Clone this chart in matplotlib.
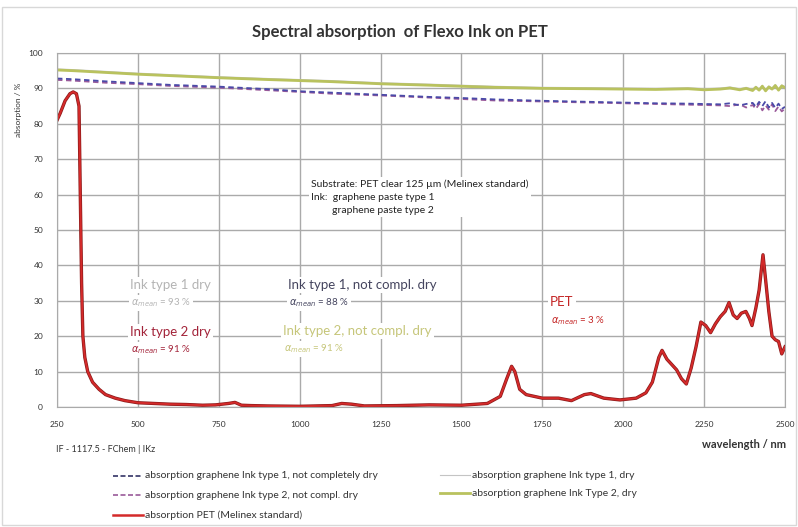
import matplotlib.pyplot as plt
from matplotlib.lines import Line2D
from matplotlib.patches import Rectangle

plt.rcParams["font.family"] = ["Lato", "DejaVu Sans"]

# wavelength grid (nm) shared by the four ink curves
WL_INK = [250, 300, 400, 500, 600, 750, 900, 1000, 1100, 1250, 1400, 1500, 1600,
          1750, 1900, 2000, 2100, 2200, 2250, 2300, 2330, 2360, 2380, 2400, 2410,
          2420, 2430, 2440, 2450, 2460, 2470, 2480, 2490, 2500]

ABS_T2_DRY = [95.2, 95.0, 94.5, 94.0, 93.6, 93.0, 92.5, 92.2, 91.9, 91.3, 90.9, 90.6, 90.3,
              90.0, 89.9, 89.8, 89.7, 89.9, 89.6, 89.8, 90.1, 89.6, 90.0, 89.4, 90.3,
              89.5, 90.6, 89.3, 90.4, 89.8, 90.8, 89.5, 90.7, 90.2]
ABS_T1_DRY = [95.5, 95.3, 94.8, 94.3, 93.9, 93.3, 92.8, 92.5, 92.2, 91.6, 91.2, 90.9, 90.6,
              90.3, 90.2, 90.1, 90.0, 90.2, 89.9, 90.1, 90.4, 89.9, 90.3, 89.7, 90.6,
              89.8, 90.9, 89.6, 90.7, 90.1, 91.1, 89.8, 91.0, 90.5]
ABS_T1_WET = [92.8, 92.6, 92.0, 91.5, 91.0, 90.5, 89.8, 89.2, 88.8, 88.2, 87.6, 87.3, 86.9,
              86.5, 86.2, 86.0, 85.8, 85.7, 85.6, 85.5, 85.8, 85.2, 85.6, 85.9, 84.8,
              86.2, 85.0, 86.4, 84.6, 85.9, 84.5, 85.7, 84.2, 84.8]
ABS_T2_WET = [92.4, 92.2, 91.6, 91.2, 90.7, 90.2, 89.5, 89.0, 88.5, 88.0, 87.4, 87.0, 86.6,
              86.3, 86.0, 85.8, 85.6, 85.4, 85.3, 85.2, 85.0, 85.5, 84.6, 85.3, 84.2,
              85.6, 83.8, 85.2, 84.0, 85.5, 83.6, 84.9, 83.5, 84.3]

WL_PET = [250, 260, 275, 290, 300, 310, 318, 322, 326, 330, 336, 345, 360, 380, 400, 430,
          460, 500, 550, 600, 650, 700, 740, 780, 800, 820, 850, 900, 1000, 1100, 1130,
          1160, 1200, 1300, 1400, 1500, 1580, 1620, 1640, 1655, 1665, 1680, 1700, 1750,
          1800, 1840, 1880, 1900, 1940, 1990, 2040, 2070, 2090, 2110, 2120, 2135, 2150,
          2165, 2180, 2195, 2210, 2225, 2240, 2255, 2270, 2285, 2300, 2315, 2327, 2340,
          2352, 2365, 2379, 2390, 2398, 2410, 2420, 2432, 2440, 2450, 2460, 2470, 2480,
          2490, 2500]
ABS_PET = [81, 83, 86.5, 88.5, 89, 88.5, 85, 60, 35, 20, 14, 10, 7, 5, 3.5, 2.5,
           1.8, 1.2, 1.0, 0.8, 0.7, 0.5, 0.6, 1.0, 1.3, 0.5, 0.4, 0.3, 0.2, 0.4, 1.0,
           0.8, 0.3, 0.4, 0.6, 0.5, 1.0, 3, 8, 11.5, 10, 5, 3.5, 2.5,
           2.5, 1.8, 3.5, 3.8, 2.5, 2.0, 2.5, 4, 7, 14, 16, 13.5, 12,
           10.5, 8, 6.5, 11, 17, 24, 23, 21, 23.5, 25.5, 27, 29.5, 26,
           25, 26.5, 27, 25, 23, 28, 33, 43, 36, 27, 20, 19, 18.5,
           15, 17]

X_TICKS = [250, 500, 750, 1000, 1250, 1500, 1750, 2000, 2250, 2500]
Y_TICKS = list(range(0, 101, 10))

C_GREEN = "#b9c25e"
C_GRAY = "#c4c4c4"
C_BLUE = "#4a4aa8"
C_PURPLE = "#9a5a9a"
C_RED = "#d42a2a"
C_GRID = "#aaaaaa"


def fx(px):
    return px / 798


def fy(py):
    return 1 - py / 527


fig = plt.figure(figsize=(7.98, 5.27), dpi=100)
fig.patches.append(Rectangle((0.003, 0.004), 0.994, 0.982, transform=fig.transFigure,
                             fill=False, edgecolor="#d8d8d8", lw=1))
ax = fig.add_axes([fx(57), fy(407), fx(785) - fx(57), fy(53) - fy(407)])

# grid drawn as plain lines so it sits under the curves
for xv in X_TICKS:
    ax.axvline(xv, color=C_GRID, lw=1.0, zorder=0.5)
for yv in Y_TICKS:
    ax.axhline(yv, color=C_GRID, lw=1.0, zorder=0.5)

ax.plot(WL_INK, ABS_T1_DRY, color=C_GRAY, lw=0.8)
ax.plot(WL_INK, ABS_T2_DRY, color=C_GREEN, lw=2.0)
ax.plot(WL_INK, ABS_T2_WET, color=C_PURPLE, lw=1.3, ls=(0, (3, 2)))
ax.plot(WL_INK, ABS_T1_WET, color=C_BLUE, lw=1.3, ls=(0, (3, 2)))
ax.plot(WL_PET, ABS_PET, color="#8a1a1a", lw=2.4)
ax.plot(WL_PET, ABS_PET, color=C_RED, lw=1.4)

ax.set_xlim(250, 2500)
ax.set_ylim(0, 100)
ax.set_xticks(X_TICKS)
ax.set_yticks(Y_TICKS)
for s in ax.spines.values():
    s.set_color(C_GRID)
ax.tick_params(length=0, labelsize=6, colors="#333333", pad=10)

fig.text(fx(400), fy(32), "Spectral absorption  of Flexo Ink on PET", ha="center", va="center",
         fontsize=12, fontweight="bold", color="#333333")
fig.text(fx(18), fy(110), "absorption / %", rotation=90, ha="center", va="center",
         fontsize=6, color="#333333")
fig.text(fx(786), fy(445), "wavelength / nm", ha="right", va="center",
         fontsize=8, fontweight="bold", color="#333333")
fig.text(fx(56), fy(450), "IF - 1117.5 - FChem | IKz", ha="left", va="center",
         fontsize=6.5, color="#333333")

box = dict(facecolor="white", edgecolor="none", pad=1.5)
fig.text(fx(311), fy(197),
         "Substrate: PET clear 125 µm (Melinex standard)\n"
         "Ink:  graphene paste type 1\n"
         "        graphene paste type 2",
         ha="left", va="center", fontsize=7.5, color="#222222", linespacing=1.6, bbox=box)

labels = [
    (130, 285, 303, "Ink type 1 dry", "93 %", "#b4b4b4"),
    (288, 285, 303, "Ink type 1, not compl. dry", "88 %", "#45455f"),
    (130, 332, 350, "Ink type 2 dry", "91 %", "#a3243a"),
    (283, 331, 349, "Ink type 2, not compl. dry", "91 %", "#c6c67a"),
    (550, 302, 321, "PET", "3 %", "#c42525"),
]
for x, y1, y2, name, val, col in labels:
    fig.text(fx(x), fy(y1), name, ha="left", va="center", fontsize=9.5, color=col, bbox=box)
    fig.text(fx(x + 1), fy(y2), r"$\alpha_{mean}$ = " + val, ha="left", va="center",
             fontsize=7, color=col, bbox=box)

left_items = [
    ("absorption graphene Ink type 1, not completely dry", dict(color="#333366", lw=1.2, ls=(0, (3, 1.5)))),
    ("absorption graphene Ink type 2, not compl. dry", dict(color=C_PURPLE, lw=1.2, ls=(0, (3, 1.5)))),
    ("absorption PET (Melinex standard)", dict(color=C_RED, lw=1.8)),
]
right_items = [
    ("absorption graphene Ink type 1, dry", dict(color=C_GRAY, lw=0.8)),
    ("absorption graphene Ink Type 2, dry", dict(color=C_GREEN, lw=2.0)),
]
for col_items, x0, rows in ((left_items, 113, (476, 495, 515)), (right_items, 440, (475, 493))):
    for (text, style), y in zip(col_items, rows):
        fig.add_artist(Line2D([fx(x0), fx(x0 + 30)], [fy(y), fy(y)], transform=fig.transFigure, **style))
        fig.text(fx(x0 + 32), fy(y), text, ha="left", va="center", fontsize=7.5, color="#333333")

fig.savefig("out.png", dpi=100)
